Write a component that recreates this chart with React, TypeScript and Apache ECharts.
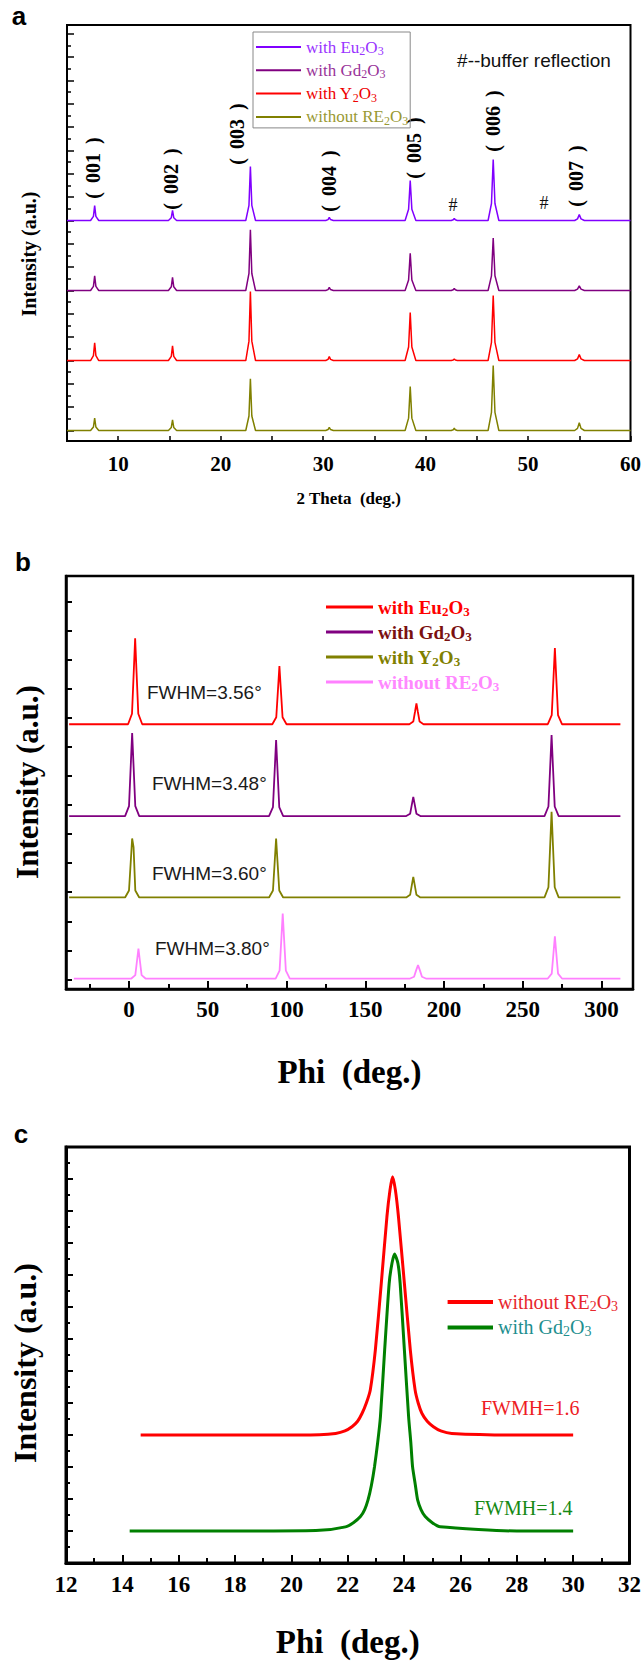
import React, { useEffect, useRef } from 'react';
import * as echarts from 'echarts';

const SERIF = '"Liberation Serif", "Times New Roman", serif';
const SANS = '"Liberation Sans", Arial, sans-serif';

// ---------------- Panel a : 2θ scans (stacked, a.u.) ----------------
const thetaA = [5,
  7.3, 7.58, 7.7, 7.82, 8.1,
  14.9, 15.18, 15.3, 15.42, 15.7,
  22.45, 22.76, 22.9, 23.04, 23.4,
  30.25, 30.48, 30.6, 30.72, 31.0,
  38.0, 38.34, 38.5, 38.66, 39.05,
  42.5, 42.7, 42.8, 42.9, 43.1,
  46.1, 46.43, 46.6, 46.77, 47.15,
  54.55, 54.83, 55.0, 55.17, 55.5,
  60];
const aEu = [90,
  90, 91.8, 96.4, 91.8, 90,
  90, 91.2, 94.3, 91.2, 90,
  90, 96.5, 113.1, 96.5, 90,
  90, 90.4, 91.3, 90.4, 90,
  90, 94.8, 107.1, 94.8, 90,
  90, 90.3, 90.9, 90.3, 90,
  90, 97.3, 116.1, 97.3, 90,
  90, 90.7, 92.6, 90.7, 90,
  90];
const aGd = [60,
  60, 61.8, 66.3, 61.8, 60,
  60, 61.6, 65.6, 61.6, 60,
  60, 67.3, 86.0, 67.3, 60,
  60, 60.4, 61.3, 60.4, 60,
  60, 64.5, 76.0, 64.5, 60,
  60, 60.3, 60.9, 60.3, 60,
  60, 66.3, 82.5, 66.3, 60,
  60, 60.6, 62.0, 60.6, 60,
  60];
const aY = [30,
  30, 32.1, 37.6, 32.1, 30,
  30, 31.8, 36.3, 31.8, 30,
  30, 38.3, 59.6, 38.3, 30,
  30, 30.5, 31.7, 30.5, 30,
  30, 35.8, 50.6, 35.8, 30,
  30, 30.2, 30.7, 30.2, 30,
  30, 37.8, 57.9, 37.8, 30,
  30, 30.7, 32.6, 30.7, 30,
  30];
const aW = [0,
  0, 1.5, 5.3, 1.5, 0,
  0, 1.3, 4.6, 1.3, 0,
  0, 6.2, 22.2, 6.2, 0,
  0, 0.4, 1.4, 0.4, 0,
  0, 5.3, 18.8, 5.3, 0,
  0, 0.3, 1.0, 0.3, 0,
  0, 7.8, 27.8, 7.8, 0,
  0, 0.9, 3.3, 0.9, 0,
  0];
const aMajorTicksY = [0, 10, 20, 30, 40, 50, 60, 70, 80, 90, 100, 110, 120, 130, 140, 150, 160, 170];
const aMinorTicksY = [5, 15, 25, 35, 45, 55, 65, 75, 85, 95, 105, 115, 125, 135, 145, 155, 165];
const hklLabels = ['001', '002', '003', '004', '005', '006', '007'];

// ---------------- Panel b : Phi scans ----------------
const bEuX = [-38, -0.6, 1.9, 3.0, 3.9, 4.8, 5.9, 8.4, 91.0, 93.5, 94.6, 95.5, 96.4, 97.5, 100.0,
  178.0, 180.5, 181.6, 182.5, 183.4, 184.5, 187.0, 265.9, 268.4, 269.5, 270.4, 271.3, 272.4, 274.9, 312];
const bEuY = [87.8, 87.8, 91.4, 105.6, 117.4, 105.6, 91.4, 87.8, 87.8, 90.2, 99.8, 107.8, 99.8, 90.2, 87.8,
  87.8, 88.7, 92.1, 95.0, 92.1, 88.7, 87.8, 87.8, 90.9, 103.5, 114.0, 103.5, 90.9, 87.8, 87.8];
const bGdX = [-38, -2.5, 0.0, 1.1, 2.0, 2.9, 4.0, 6.5, 88.9, 91.4, 92.5, 93.4, 94.3, 95.4, 97.9,
  176.0, 178.5, 179.6, 180.5, 181.4, 182.5, 185.0, 263.8, 266.3, 267.4, 268.3, 269.2, 270.3, 272.8, 312];
const bGdY = [56.2, 56.2, 59.6, 73.4, 84.8, 73.4, 59.6, 56.2, 56.2, 59.3, 71.9, 82.4, 71.9, 59.3, 56.2,
  56.2, 57.0, 60.2, 62.8, 60.2, 57.0, 56.2, 56.2, 59.5, 72.9, 84.1, 72.9, 59.5, 56.2, 56.2];
const bYX = [-38, -2.5, 0.0, 1.1, 2.0, 2.9, 4.0, 6.5, 88.9, 91.4, 92.5, 93.4, 94.3, 95.4, 97.9,
  176.0, 178.5, 179.6, 180.5, 181.4, 182.5, 185.0, 263.8, 266.3, 267.4, 268.3, 269.2, 270.3, 272.8, 312];
const bYY = [28.2, 28.2, 30.6, 40.4, 48.5, 45.5, 30.6, 28.2, 28.2, 30.6, 40.4, 48.5, 40.4, 30.6, 28.2,
  28.2, 29.1, 32.5, 35.3, 32.5, 29.1, 28.2, 28.2, 31.7, 45.9, 57.7, 45.9, 31.7, 28.2, 28.2];
const bWX = [-35, 1.5, 4.0, 5.1, 6.0, 6.9, 8.0, 10.5, 93.1, 95.6, 96.7, 97.6, 98.5, 99.6, 102.1,
  178.5, 181.0, 182.3, 183.5, 184.7, 186.0, 188.5, 265.9, 268.4, 269.5, 270.4, 271.3, 272.4, 274.9, 312];
const bWY = [0.3, 0.3, 1.5, 6.5, 10.6, 6.5, 1.5, 0.3, 0.3, 3.0, 13.7, 22.7, 13.7, 3.0, 0.3,
  0.3, 0.9, 3.1, 4.9, 3.1, 0.9, 0.3, 0.3, 2.0, 9.0, 14.8, 9.0, 2.0, 0.3, 0.3];
const bMajorTicksX = [0, 50, 100, 150, 200, 250, 300];
const bMinorTicksX = [-25, 25, 75, 125, 175, 225, 275];
const bTicksY = [0, 10, 20, 30, 40, 50, 60, 70, 80, 90, 100, 110, 120, 130];
const fwhmB = ['FWHM=3.56°', 'FWHM=3.48°', 'FWHM=3.60°', 'FWHM=3.80°'];

// ---------------- Panel c : single Phi peak ----------------
const cWX = [14.65, 19.0, 21.0, 21.57, 21.9, 22.15, 22.35, 22.51, 22.66, 22.80, 22.98, 23.19, 23.39, 23.50, 23.59,
  23.69, 23.80, 24.01, 24.22, 24.39, 24.50, 24.63, 24.82, 25.04, 25.3, 25.69, 28.0, 30.0];
const cWY = [40, 40, 40.1, 40.5, 41.3, 42.6, 44.3, 46.8, 50.0, 54.1, 66.6, 87.4, 108.2, 116.6, 120.7,
  116.6, 108.2, 87.4, 66.6, 54.1, 50.0, 46.8, 44.3, 42.6, 41.3, 40.5, 40, 40];
const cGdX = [14.26, 19.0, 21.0, 21.92, 22.2, 22.45, 22.6, 22.72, 22.84, 22.95, 23.06, 23.16, 23.31, 23.47, 23.57, 23.66,
  23.78, 23.86, 24.01, 24.16, 24.24, 24.30, 24.40, 24.48, 24.6, 24.75, 25.0, 25.28, 28.0, 30.0];
const cGdY = [10, 10, 10.2, 11.3, 12.6, 14.5, 16.7, 19.7, 24.3, 30.1, 37.5, 45.7, 66.6, 87.4, 93.7, 96.6,
  93.7, 87.4, 66.6, 45.7, 37.5, 30.1, 24.3, 19.7, 16.7, 14.5, 12.6, 11.3, 10, 10];
const fwmhC = ['FWMH=1.6', 'FWMH=1.4'];

// legend label bases (subscripts added as rich text)
const bases: Record<string, string> = { Eu: 'with Eu', Gd: 'with Gd', Y: 'with Y', W: 'without RE' };
const yTitle = 'Intensity (a.u.)';

const zip = (xs: number[], ys: number[]) => xs.map((x, i) => [x, ys[i]]);

function buildRich(colors: string[], main: number, sub: number, weight: string, lh: number) {
  const r: Record<string, any> = {};
  colors.forEach((c, i) => {
    r['m' + i] = { color: c, fontSize: main, fontFamily: SERIF, fontWeight: weight, lineHeight: lh };
    r['s' + i] = { color: c, fontSize: sub, fontFamily: SERIF, fontWeight: weight, lineHeight: sub + 2, verticalAlign: 'bottom' };
  });
  return r;
}
function fmt(keys: string[]) {
  return (name: string) => {
    const key = name.split('-')[1];
    const i = keys.indexOf(key);
    return `{m${i}|${bases[key]}}{s${i}|2}{m${i}|O}{s${i}|3}`;
  };
}

function line(name: string, data: number[][], color: string, xi: number, yi: number, width: number, smooth = 0) {
  return {
    name, type: 'line', xAxisIndex: xi, yAxisIndex: yi, data,
    symbol: 'none', showSymbol: false, smooth: smooth || false,
    itemStyle: { color }, lineStyle: { color, width }, emphasis: { disabled: true },
  };
}

export default function App() {
  const ref = useRef<HTMLDivElement>(null);
  useEffect(() => {
    document.body.style.margin = '0';
    const chart = echarts.init(ref.current!, null, { renderer: 'svg' });

    const aLine = ['#8000ff', '#800080', '#ff0000', '#808000'];
    const aText = ['#9933ff', '#993399', '#ee0000', '#999933'];
    const bLine = ['#ff0000', '#800080', '#808000', '#ff80ff'];
    const bText = ['#ff0000', '#7a1010', '#808000', '#ff88ff'];
    const cLine = ['#ff0000', '#008000'];
    const cText = ['#e8282e', '#1f8f8f'];

    const axisBase = (w: number) => ({
      axisLine: { show: true, onZero: false, lineStyle: { color: '#000', width: w } },
      splitLine: { show: false },
    });
    const tickLabel = (size: number, margin: number) => ({
      fontFamily: SERIF, fontWeight: 'bold', fontSize: size, color: '#000', margin,
    });
    const vText = (x: number, y: number, size: number) => ({
      type: 'text', x, y, rotation: Math.PI / 2,
      style: { text: yTitle, fontFamily: SERIF, fontWeight: 'bold', fontSize: size, fill: '#000', align: 'center', verticalAlign: 'middle' },
    });

    const hklPos = [[93, 168], [171, 179], [237, 134], [329, 181], [414, 148], [493, 121], [576, 176]];
    const graphics: any[] = [
      { type: 'text', x: 19, y: 16, style: { text: 'a', fontFamily: SANS, fontWeight: 'bold', fontSize: 26, fill: '#000', align: 'center', verticalAlign: 'middle' } },
      { type: 'text', x: 23, y: 562, style: { text: 'b', fontFamily: SANS, fontWeight: 'bold', fontSize: 26, fill: '#000', align: 'center', verticalAlign: 'middle' } },
      { type: 'text', x: 21, y: 1134, style: { text: 'c', fontFamily: SANS, fontWeight: 'bold', fontSize: 26, fill: '#000', align: 'center', verticalAlign: 'middle' } },
      vText(29, 254, 20),
      vText(27, 782, 31),
      vText(25, 1363, 32),
      { type: 'text', x: 534, y: 60, style: { text: '#--buffer reflection', fontFamily: SANS, fontSize: 19, fill: '#111', align: 'center', verticalAlign: 'middle' } },
      { type: 'text', x: 453, y: 205, style: { text: '#', fontFamily: SERIF, fontSize: 18, fill: '#111', align: 'center', verticalAlign: 'middle' } },
      { type: 'text', x: 544, y: 203, style: { text: '#', fontFamily: SERIF, fontSize: 18, fill: '#111', align: 'center', verticalAlign: 'middle' } },
      ...hklLabels.map((t, i) => ({
        type: 'text', x: hklPos[i][0], y: hklPos[i][1], rotation: Math.PI / 2,
        style: { text: '(\u00a0\u2009' + t + '\u2009\u00a0)', fontFamily: SERIF, fontWeight: 'bold', fontSize: 20, fill: '#000', align: 'center', verticalAlign: 'middle' },
      })),
      ...fwhmB.map((t, i) => ({
        type: 'text', x: [147, 152, 152, 155][i], y: [692, 783, 873, 948][i],
        style: { text: t, fontFamily: SANS, fontSize: 19, fill: '#1a1a1a', align: 'left', verticalAlign: 'middle' },
      })),
      { type: 'text', x: 481, y: 1408, style: { text: fwmhC[0], fontFamily: SERIF, fontSize: 20, fill: '#ee1c24', align: 'left', verticalAlign: 'middle' } },
      { type: 'text', x: 474, y: 1508, style: { text: fwmhC[1], fontFamily: SERIF, fontSize: 20, fill: '#158a15', align: 'left', verticalAlign: 'middle' } },
    ];

    const option: any = {
      animation: false,
      backgroundColor: '#fff',
      grid: [
        { left: 67, top: 25, width: 566, height: 416, show: true, borderColor: '#000', borderWidth: 2, backgroundColor: 'transparent' },
        { left: 66, top: 576, width: 567, height: 413, show: true, borderColor: '#000', borderWidth: 2.5, backgroundColor: 'transparent' },
        { left: 66, top: 1147, width: 567, height: 416, show: true, borderColor: '#000', borderWidth: 3, backgroundColor: 'transparent' },
      ],
      xAxis: [
        {
          gridIndex: 0, type: 'value', min: 5, max: 60, interval: 5, position: 'bottom', ...axisBase(2),
          axisTick: { show: true, inside: true, length: 5, lineStyle: { color: '#000', width: 1.5 } },
          axisLabel: { ...tickLabel(21, 12), formatter: (v: number) => (v % 10 === 0 ? String(v) : '') },
          name: '2 Theta\u00a0\u00a0(deg.)', nameLocation: 'middle', nameGap: 49,
          nameTextStyle: { fontFamily: SERIF, fontWeight: 'bold', fontSize: 17, color: '#000' },
        },
        {
          gridIndex: 1, type: 'value', min: -40, max: 320, position: 'bottom', ...axisBase(2.5),
          axisTick: { show: true, inside: true, length: 8, customValues: bMajorTicksX, lineStyle: { color: '#000', width: 2 } },
          axisLabel: { ...tickLabel(23, 9), customValues: bMajorTicksX },
          name: 'Phi\u00a0\u00a0(deg.)', nameLocation: 'middle', nameGap: 66,
          nameTextStyle: { fontFamily: SERIF, fontWeight: 'bold', fontSize: 33, color: '#000' },
        },
        {
          gridIndex: 1, type: 'value', min: -40, max: 320, position: 'bottom', offset: 0,
          axisLine: { show: false, onZero: false }, splitLine: { show: false }, axisLabel: { show: false },
          axisTick: { show: true, inside: true, length: 5, customValues: bMinorTicksX, lineStyle: { color: '#000', width: 2 } },
        },
        {
          gridIndex: 2, type: 'value', min: 12, max: 32, interval: 2, position: 'bottom', ...axisBase(3),
          axisTick: { show: true, inside: true, length: 8, lineStyle: { color: '#000', width: 2 } },
          minorTick: { show: true, splitNumber: 2, length: 5, lineStyle: { color: '#000', width: 2 } },
          axisLabel: tickLabel(23, 10),
          name: 'Phi\u00a0\u00a0(deg.)', nameLocation: 'middle', nameGap: 62,
          nameTextStyle: { fontFamily: SERIF, fontWeight: 'bold', fontSize: 33, color: '#000' },
        },
      ],
      yAxis: [
        {
          gridIndex: 0, type: 'value', min: -4.5, max: 173.8, position: 'left', ...axisBase(2),
          axisTick: { show: true, inside: true, length: 7, customValues: aMajorTicksY, lineStyle: { color: '#000', width: 1.5 } },
          axisLabel: { show: false },
        },
        {
          gridIndex: 0, type: 'value', min: -4.5, max: 173.8, position: 'left', offset: 0,
          axisLine: { show: false, onZero: false }, splitLine: { show: false }, axisLabel: { show: false },
          axisTick: { show: true, inside: true, length: 4, customValues: aMinorTicksY, lineStyle: { color: '#000', width: 1.5 } },
        },
        {
          gridIndex: 1, type: 'value', min: -3.3, max: 138.8, position: 'left', ...axisBase(2.5),
          axisTick: { show: true, inside: true, length: 6, customValues: bTicksY, lineStyle: { color: '#000', width: 2 } },
          axisLabel: { show: false },
        },
        {
          gridIndex: 2, type: 'value', min: 0, max: 130, interval: 10, position: 'left', ...axisBase(3),
          axisTick: { show: true, inside: true, length: 7, lineStyle: { color: '#000', width: 2 } },
          minorTick: { show: true, splitNumber: 2, length: 4, lineStyle: { color: '#000', width: 2 } },
          axisLabel: { show: false },
        },
      ],
      legend: [
        {
          left: 253, top: 32, orient: 'vertical', padding: [5, 2, 1, 3], borderColor: '#888', borderWidth: 1,
          itemWidth: 45, itemHeight: 2, itemGap: 3.3, icon: 'rect', selectedMode: false,
          data: ['a-Eu', 'a-Gd', 'a-Y', 'a-W'], formatter: fmt(['Eu', 'Gd', 'Y', 'W']),
          textStyle: { fontFamily: SERIF, fontSize: 17, lineHeight: 20, rich: buildRich(aText, 17, 12, 'normal', 20) },
        },
        {
          left: 326, top: 596, orient: 'vertical', padding: 0,
          itemWidth: 47, itemHeight: 3, itemGap: 3, icon: 'rect', selectedMode: false,
          data: ['b-Eu', 'b-Gd', 'b-Y', 'b-W'], formatter: fmt(['Eu', 'Gd', 'Y', 'W']),
          textStyle: { fontFamily: SERIF, fontSize: 19, lineHeight: 22, rich: buildRich(bText, 19, 13, 'bold', 22) },
        },
        {
          left: 447.6, top: 1291, orient: 'vertical', padding: 0,
          itemWidth: 45.4, itemHeight: 4, itemGap: 3.4, icon: 'rect', selectedMode: false,
          data: ['c-W', 'c-Gd'], formatter: fmt(['W', 'Gd']),
          textStyle: { fontFamily: SERIF, fontSize: 20, lineHeight: 22, rich: buildRich(cText, 20, 14, 'normal', 22) },
        },
      ],
      graphic: { elements: graphics },
      series: [
        line('a-Eu', zip(thetaA, aEu), aLine[0], 0, 0, 1.5),
        line('a-Gd', zip(thetaA, aGd), aLine[1], 0, 0, 1.5),
        line('a-Y', zip(thetaA, aY), aLine[2], 0, 0, 1.5),
        line('a-W', zip(thetaA, aW), aLine[3], 0, 0, 1.5),
        line('b-Eu', zip(bEuX, bEuY), bLine[0], 1, 2, 1.8),
        line('b-Gd', zip(bGdX, bGdY), bLine[1], 1, 2, 1.8),
        line('b-Y', zip(bYX, bYY), bLine[2], 1, 2, 1.8),
        line('b-W', zip(bWX, bWY), bLine[3], 1, 2, 1.8),
        line('c-W', zip(cWX, cWY), cLine[0], 3, 3, 3, 0.2),
        line('c-Gd', zip(cGdX, cGdY), cLine[1], 3, 3, 3, 0.2),
      ],
    };
    chart.setOption(option);
    return () => chart.dispose();
  }, []);
  return <div ref={ref} style={{ width: 644, height: 1661 }} />;
}
